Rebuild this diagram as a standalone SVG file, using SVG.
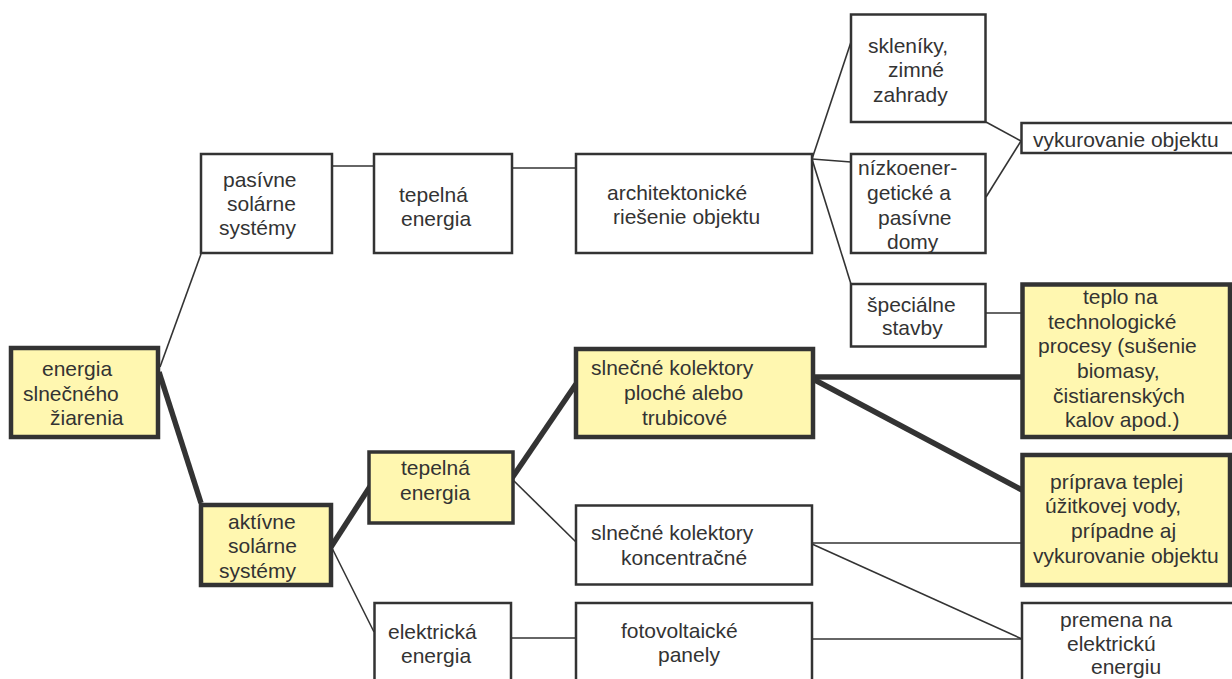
<svg xmlns="http://www.w3.org/2000/svg" width="1232" height="679" viewBox="0 0 1232 679">
<style>
.b{fill:#fff;stroke:#333;stroke-width:2.5}
.y{fill:#FFF7B0;stroke:#333;stroke-width:4.5}
.t{font-family:"Liberation Sans",Arial,sans-serif;font-size:21px;fill:#333}
.c{fill:none;stroke:#333;stroke-width:1.6}
.k{fill:none;stroke:#333;stroke-width:5.5}
</style>
<rect width="1232" height="679" fill="#fff"/>
<g id="connectors">
<line class="c" x1="160" y1="367" x2="201" y2="254"/>
<line class="k" x1="159" y1="372" x2="201" y2="503"/>
<line class="k" x1="331" y1="547" x2="371" y2="485"/>
<line class="c" x1="331" y1="546" x2="374" y2="632"/>
<line class="k" x1="510" y1="481" x2="576" y2="384"/>
<line class="c" x1="513" y1="480" x2="576" y2="542"/>
<line class="c" x1="332" y1="166" x2="374" y2="166"/>
<line class="c" x1="512" y1="168" x2="576" y2="168"/>
<line class="c" x1="812" y1="159" x2="851" y2="42"/>
<line class="c" x1="812" y1="159" x2="851" y2="162"/>
<line class="c" x1="812" y1="159" x2="851" y2="284"/>
<line class="c" x1="986" y1="122" x2="1021" y2="141"/>
<line class="c" x1="986" y1="197" x2="1021" y2="141"/>
<line class="c" x1="986" y1="313" x2="1021" y2="313"/>
<line class="k" x1="813" y1="377" x2="1021" y2="377"/>
<line class="k" x1="813" y1="379" x2="1022" y2="490"/>
<line class="c" x1="812" y1="543" x2="1022" y2="543"/>
<line class="c" x1="812" y1="544" x2="1022" y2="639"/>
<line class="c" x1="511" y1="638" x2="576" y2="638"/>
<line class="c" x1="812" y1="639" x2="1022" y2="639"/>
</g>
<g id="n-energia">
<rect class="y" x="11" y="348" width="147" height="89"/>
<text class="t"><tspan x="42" y="376">energia</tspan><tspan x="23" y="401">slnečného</tspan><tspan x="50" y="425">žiarenia</tspan></text>
</g>
<g id="n-pasivne">
<rect class="b" x="201" y="154" width="131" height="99"/>
<text class="t"><tspan x="223" y="187">pasívne</tspan><tspan x="227" y="211">solárne</tspan><tspan x="219" y="235">systémy</tspan></text>
</g>
<g id="n-tepelna1">
<rect class="b" x="374" y="154" width="138" height="99"/>
<text class="t"><tspan x="399" y="202">tepelná</tspan><tspan x="401" y="226">energia</tspan></text>
</g>
<g id="n-arch">
<rect class="b" x="576" y="154" width="236" height="99"/>
<text class="t"><tspan x="607" y="200">architektonické</tspan><tspan x="613" y="224">riešenie objektu</tspan></text>
</g>
<g id="n-sklen">
<rect class="b" x="851" y="14.5" width="134.5" height="107.5"/>
<text class="t"><tspan x="868" y="53">skleníky,</tspan><tspan x="888" y="77">zimné</tspan><tspan x="873" y="102">zahrady</tspan></text>
</g>
<g id="n-nizko">
<rect class="b" x="851" y="154" width="134.5" height="99"/>
<text class="t"><tspan x="858" y="175">nízkoener-</tspan><tspan x="867" y="200">getické a</tspan><tspan x="878" y="225">pasívne</tspan><tspan x="887" y="249">domy</tspan></text>
</g>
<g id="n-special">
<rect class="b" x="851" y="284" width="134.5" height="62.5"/>
<text class="t"><tspan x="867" y="312">špeciálne</tspan><tspan x="882" y="335">stavby</tspan></text>
</g>
<g id="n-vykur">
<rect class="b" x="1021.5" y="123" width="220" height="30"/>
<text class="t" x="1033" y="147">vykurovanie objektu</text>
</g>
<g id="n-teplo">
<rect class="y" x="1022.5" y="284.5" width="207.5" height="152.5"/>
<text class="t"><tspan x="1083" y="304">teplo na</tspan><tspan x="1048" y="329">technologické</tspan><tspan x="1038" y="353">procesy (sušenie</tspan><tspan x="1077" y="378">biomasy,</tspan><tspan x="1053" y="403">čistiarenských</tspan><tspan x="1065" y="427">kalov apod.)</tspan></text>
</g>
<g id="n-priprava">
<rect class="y" x="1022.5" y="455" width="207.5" height="130"/>
<text class="t"><tspan x="1050" y="489">príprava teplej</tspan><tspan x="1045" y="513">úžitkovej vody,</tspan><tspan x="1071" y="538">prípadne aj</tspan><tspan x="1033" y="563">vykurovanie objektu</tspan></text>
</g>
<g id="n-aktivne">
<rect class="y" x="201" y="505" width="130" height="80"/>
<text class="t"><tspan x="228" y="529">aktívne</tspan><tspan x="228" y="553">solárne</tspan><tspan x="219" y="578">systémy</tspan></text>
</g>
<g id="n-tepelna2">
<rect class="y" x="369" y="452" width="144" height="71" style="stroke-width:3.5"/>
<text class="t"><tspan x="401" y="475">tepelná</tspan><tspan x="400" y="500">energia</tspan></text>
</g>
<g id="n-plochy">
<rect class="y" x="576" y="349" width="237" height="88"/>
<text class="t"><tspan x="591" y="375">slnečné kolektory</tspan><tspan x="624" y="400">ploché alebo</tspan><tspan x="642" y="425">trubicové</tspan></text>
</g>
<g id="n-koncentr">
<rect class="b" x="576" y="505.5" width="236" height="79"/>
<text class="t"><tspan x="591" y="540">slnečné kolektory</tspan><tspan x="621" y="565">koncentračné</tspan></text>
</g>
<g id="n-elektr">
<rect class="b" x="374.5" y="603" width="136.5" height="100"/>
<text class="t"><tspan x="388" y="639">elektrická</tspan><tspan x="401" y="663">energia</tspan></text>
</g>
<g id="n-foto">
<rect class="b" x="576" y="603" width="236" height="100"/>
<text class="t"><tspan x="621" y="638">fotovoltaické</tspan><tspan x="658" y="662">panely</tspan></text>
</g>
<g id="n-premena">
<rect class="b" x="1022" y="603" width="220" height="100"/>
<text class="t"><tspan x="1060" y="627">premena na</tspan><tspan x="1067" y="651">elektrickú</tspan><tspan x="1091" y="674">energiu</tspan></text>
</g>
</svg>
